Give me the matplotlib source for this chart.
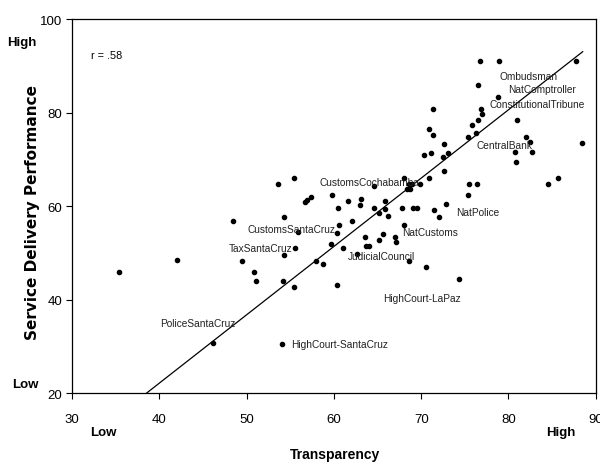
import matplotlib
matplotlib.use("Agg")
import matplotlib.pyplot as plt
import numpy as np

# transparency (x) and service delivery performance (y)
transparency = [35.4, 42.0, 48.4, 49.5, 50.8, 51.1, 46.2, 54.0, 54.2, 54.3,
                55.4, 55.5, 55.9, 54.3, 58.0, 58.8, 59.7, 60.3, 60.3, 60.6,
                61.0, 62.1, 62.6, 63.6, 65.6, 65.2, 63.7, 64.0, 67.0, 67.1,
                68.0, 68.6, 70.6, 74.3, 53.6, 55.4, 56.7, 56.9, 57.4, 59.8,
                60.5, 61.6, 63.1, 63.0, 64.6, 64.6, 65.2, 65.8, 65.9, 66.2,
                67.8, 68.0, 68.4, 68.7, 68.6, 68.9, 69.9, 69.1, 69.5, 71.5,
                72.0, 72.8, 70.9, 72.6, 70.3, 71.1, 72.5, 73.1, 72.6, 70.9,
                71.4, 71.4, 75.4, 76.3, 75.8, 76.5, 76.9, 77.0, 76.5, 76.7,
                78.9, 78.8, 81.0, 82.0, 82.5, 80.7, 82.7, 80.9, 87.7, 88.4,
                75.5, 76.4, 75.4, 84.5, 85.7]
performance = [45.9, 48.5, 56.8, 48.4, 45.9, 44.0, 30.8, 30.5, 44.0, 49.5,
               42.8, 51.2, 54.5, 57.7, 48.4, 47.6, 52.0, 43.1, 54.3, 56.0,
               51.2, 56.8, 49.9, 53.5, 54.0, 52.8, 51.5, 51.5, 53.5, 52.4,
               56.0, 48.4, 47.0, 44.5, 64.7, 66.1, 60.9, 61.3, 62.1, 62.5,
               59.6, 61.1, 61.6, 60.2, 64.3, 59.6, 58.5, 59.4, 61.1, 57.9,
               59.6, 66.1, 63.7, 63.7, 64.7, 64.7, 64.7, 59.7, 59.7, 59.2,
               57.7, 60.5, 66.1, 67.5, 70.9, 71.4, 70.5, 71.4, 73.3, 76.5,
               75.3, 80.9, 74.8, 75.6, 77.5, 78.5, 80.9, 79.8, 86.0, 91.0,
               91.0, 83.4, 78.5, 74.9, 73.7, 71.7, 71.7, 69.4, 91.0, 73.6,
               64.7, 64.7, 62.5, 64.7, 66.1]

# fitted line end points
fit_x = [38.5, 88.5]
fit_y = [20.0, 93.1]

agency_names = ["Ombudsman", "NatComptroller", "ConstitutionalTribune",
                "CentralBank", "CustomsCochabamba", "CustomsSantaCruz",
                "TaxSantaCruz", "JudicialCouncil", "NatCustoms", "NatPolice",
                "HighCourt-LaPaz", "HighCourt-SantaCruz", "PoliceSantaCruz"]
r_text = "r = .58"

# where each name sits (left edge, vertical centre), data units
label_pos = {
    "Ombudsman": (79.0, 87.9),
    "NatComptroller": (80.0, 85.15),
    "ConstitutionalTribune": (77.85, 81.95),
    "CentralBank": (76.35, 73.05),
    "CustomsCochabamba": (58.3, 65.2),
    "CustomsSantaCruz": (50.05, 55.1),
    "TaxSantaCruz": (47.9, 51.1),
    "JudicialCouncil": (61.65, 49.3),
    "NatCustoms": (67.85, 54.5),
    "NatPolice": (73.95, 58.9),
    "HighCourt-LaPaz": (65.6, 40.4),
    "HighCourt-SantaCruz": (55.05, 30.5),
    "PoliceSantaCruz": (40.15, 35.1),
}

plt.rcParams["font.family"] = ["Liberation Sans", "DejaVu Sans"]

fig = plt.figure(figsize=(6, 4.64), dpi=100)
ax = fig.add_axes([0.12, 0.15, 0.873, 0.806])

ax.scatter(transparency, performance, s=9, color="black", zorder=3)
ax.plot(fit_x, fit_y, color="black", lw=0.9)

for name in agency_names:
    lx, ly = label_pos[name]
    ax.text(lx, ly, name, fontsize=7.3, color="#222222", ha="left", va="center")
ax.text(32.2, 92.4, r_text, fontsize=7.8, ha="left", va="center")

ax.set_xlim(30, 90)
ax.set_ylim(20, 100)
ax.set_xticks([30, 40, 50, 60, 70, 80, 90])
ax.set_yticks([20, 40, 60, 80, 100])
ax.tick_params(direction="out", length=4, width=0.8, labelsize=9.5)
ax.tick_params(axis="x", pad=10)
ax.tick_params(axis="y", pad=3)
for sp in ax.spines.values():
    sp.set_linewidth(0.9)

fig.text(0.559, 0.019, "Transparency", fontsize=10, fontweight="bold",
         ha="center", va="center")
fig.text(0.173, 0.067, "Low", fontsize=9.5, fontweight="bold", ha="center", va="center")
fig.text(0.934, 0.067, "High", fontsize=9.5, fontweight="bold", ha="center", va="center")
fig.text(0.055, 0.541, "Service Delivery Performance", fontsize=11, fontweight="bold",
         ha="center", va="center", rotation=90, family=["DejaVu Sans"])
fig.text(0.036, 0.907, "High", fontsize=9.5, fontweight="bold", ha="center", va="center")
fig.text(0.042, 0.170, "Low", fontsize=9.5, fontweight="bold", ha="center", va="center")

fig.savefig("out.png", dpi=100)
